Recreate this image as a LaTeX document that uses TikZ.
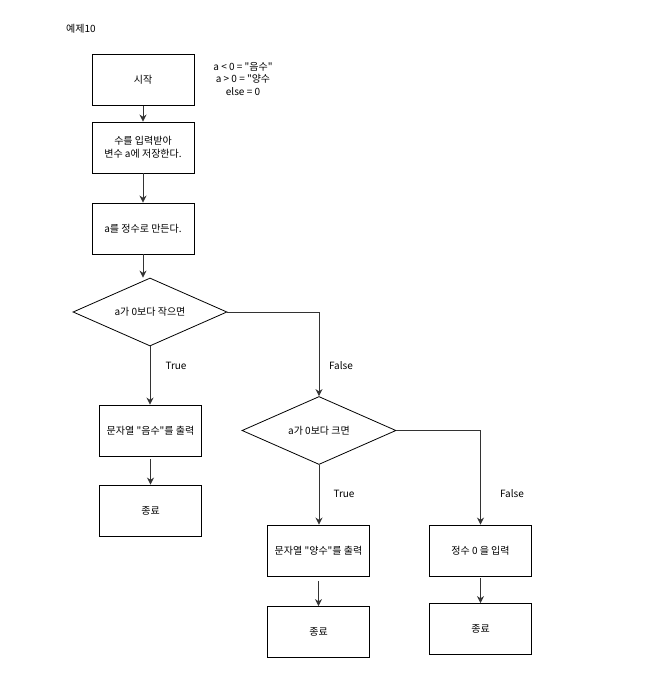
\documentclass[tikz,border=0pt]{standalone}
\usepackage{fontspec}
\newfontfamily\kr{Noto Sans CJK KR}
\usetikzlibrary{shapes.geometric,arrows.meta}
\begin{document}
\begin{tikzpicture}[x=1pt,y=-1pt,
  every node/.style={font=\kr\fontsize{10}{12.5}\selectfont},
  box/.style={draw=black,line width=0.9pt,minimum width=102pt,minimum height=51pt,inner sep=0pt,align=center},
  dia/.style={draw=black,line width=0.8pt,diamond,inner sep=0pt,minimum width=154pt,minimum height=68pt,aspect=2.26},
  arr/.style={draw=black!80,line width=0.8pt,-{Stealth[length=7pt,width=7pt]}},
  lbl/.style={inner sep=0pt}]
\useasboundingbox (0,0) rectangle (645,700);
\node[lbl,anchor=west] (title) at (66,29) {예제10};
\node[lbl,align=center] (note) at (243,79) {a < 0 = "음수"\\a > 0 = "양수\\else = 0};
\node[box] (start) at (143,80) {시작};
\node[box] (input) at (143,147.5) {수를 입력받아\\변수 a에 저장한다.};
\node[box] (toint) at (143,228.5) {a를 정수로 만든다.};
\node[dia] (d1) at (150,312) {a가 0보다 작으면};
\node[box] (neg) at (150.5,430.5) {문자열 "음수"를 출력};
\node[box] (end1) at (150.5,510.5) {종료};
\node[dia] (d2) at (319,430.5) {a가 0보다 크면};
\node[box] (pos) at (318.5,550.5) {문자열 "양수"를 출력};
\node[box] (zero) at (480.5,550.5) {정수 0 을 입력};
\node[box] (end2) at (318.5,632) {종료};
\node[box] (end3) at (480.5,629) {종료};
\draw[arr] (start) -- (input);
\draw[arr] (input) -- (toint);
\draw[arr] (toint.south) -- (toint.south |- d1.north);
\draw[arr] (d1.south) -- (d1.south |- neg.north);
\draw[arr,shorten <=3pt] (neg.south) -- (end1.north);
\draw[arr] (d1.east) -| (d2.north);
\draw[arr] (d2.south) -- (d2.south |- pos.north);
\draw[arr] (d2.east) -| (zero.north);
\draw[arr,shorten <=5pt] (pos.south) -- (end2.north);
\draw[arr,shorten <=2pt] (zero.south) -- (end3.north);
\node[lbl] (t1) at (176,366) {True};
\node[lbl] (f1) at (341,366) {False};
\node[lbl] (t2) at (344,494) {True};
\node[lbl] (f2) at (512,494) {False};
\end{tikzpicture}
\end{document}
